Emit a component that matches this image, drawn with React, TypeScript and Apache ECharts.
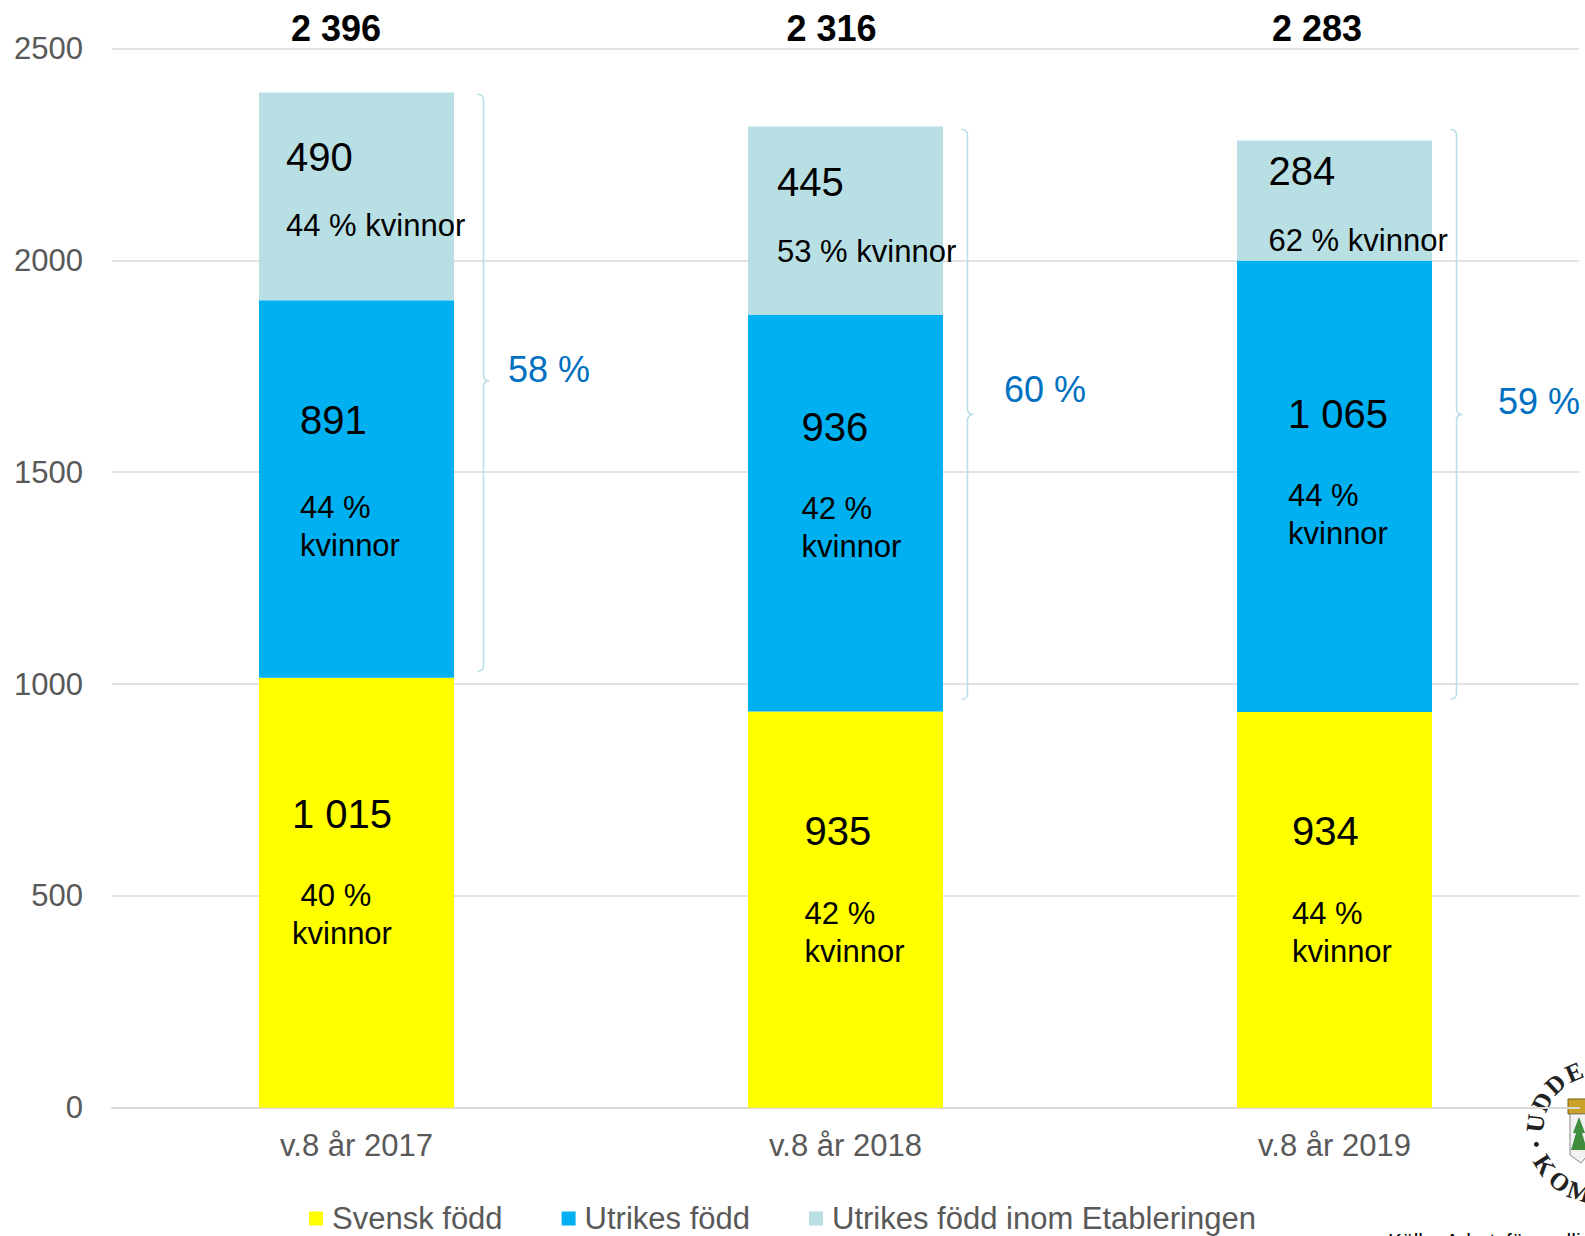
import React, { useEffect, useRef } from 'react';
import * as echarts from 'echarts';

// ---------- data ----------
const categories = ['v.8 år 2017', 'v.8 år 2018', 'v.8 år 2019'];
const legendNames = ['Svensk född', 'Utrikes född', 'Utrikes född inom Etableringen'];
const svenskFodd = [1015, 935, 934];
const utrikesFodd = [891, 936, 1065];
const etablering = [490, 445, 284];
const svenskKvinnor = [40, 42, 44];
const utrikesKvinnor = [44, 42, 44];
const etableringKvinnor = [44, 53, 62];
const totals = [2396, 2316, 2283];
const utrikesAndel = [58, 60, 59];
// brace extents (value units)
const braceTop = [2392, 2309, 2309];
const braceBottom = [1030, 964, 964];
const braceMid = [1716, 1636, 1636];
const yMin = 0;
const yMax = 2500;
const yInterval = 500;

// ---------- layout / style ----------
const FONT = 'Arial, "Liberation Sans", Helvetica, sans-serif';
const W = 1585;
const H = 1236;
const labelLayout = {
  svensk: [
    { dx: 33, top: 73, ln: 126, lead: ' ' },
    { dx: 56.6, top: 56.4, ln: 126, lead: '' },
    { dx: 55, top: 56, ln: 126, lead: '' },
  ],
  utrikes: [
    { dx: 41, top: 51.8, ln: 137, lead: '' },
    { dx: 53.5, top: 49, ln: 125, lead: '' },
    { dx: 51, top: 90, ln: 126, lead: '' },
  ],
  etab: [
    { dx: 27, top: 14.4, ln: 100, lead: '' },
    { dx: 29, top: 4.5, ln: 102, lead: '' },
    { dx: 31.5, top: -20, ln: 101, lead: '' },
  ],
};
const braceDx = [127, 122, 122];
const shareOffset = [
  [24.5, -11.5],
  [36.5, -25],
  [41.5, -13],
];
const totalShift = [41, 28, 35];

const fmt = (v: number) =>
  v >= 1000 ? `${Math.floor(v / 1000)} ${String(v % 1000).padStart(3, '0')}` : String(v);

const makeData = (vals: number[], pcts: number[], layout: any[], twoLines: boolean) =>
  vals.map((v, i) => ({
    value: v,
    label: {
      show: true,
      position: [layout[i].dx, layout[i].top],
      align: 'left',
      verticalAlign: 'top',
      formatter: twoLines
        ? `{n|${fmt(v)}}\n{p|${layout[i].lead}${pcts[i]} %}\n{p|kvinnor}`
        : `{n|${fmt(v)}}\n{p|${pcts[i]} % kvinnor}`,
      rich: {
        n: { fontSize: 40, lineHeight: layout[i].ln, color: '#000', fontFamily: FONT },
        p: { fontSize: 31, lineHeight: 38, color: '#000', fontFamily: FONT },
      },
    },
  }));

const sealTop: [string, number][] = [
  ['U', 187],
  ['D', 207],
  ['D', 227],
  ['E', 247],
];
const sealBottom: [string, number][] = [
  ['K', 148],
  ['O', 128],
  ['M', 108],
];

function buildSeal() {
  const cx = 1599;
  const cy = 1131;
  const r = 64;
  const els: any[] = [];
  const font = 'bold 25px "Liberation Serif", "DejaVu Serif", serif';
  sealTop.forEach(([ch, deg]) => {
    const t = (deg * Math.PI) / 180;
    els.push({
      type: 'text',
      x: cx + r * Math.cos(t),
      y: cy + r * Math.sin(t),
      rotation: (-(deg + 90) * Math.PI) / 180,
      style: { text: ch, font, fill: '#222', align: 'center', verticalAlign: 'middle' },
    });
  });
  sealBottom.forEach(([ch, deg]) => {
    const t = (deg * Math.PI) / 180;
    els.push({
      type: 'text',
      x: cx + r * Math.cos(t),
      y: cy + r * Math.sin(t),
      rotation: ((90 - deg) * Math.PI) / 180,
      style: { text: ch, font, fill: '#222', align: 'center', verticalAlign: 'middle' },
    });
  });
  const td = (168 * Math.PI) / 180;
  els.push({
    type: 'circle',
    shape: { cx: cx + r * Math.cos(td), cy: cy + r * Math.sin(td), r: 2.5 },
    style: { fill: '#222' },
  });
  // shield
  els.push({
    type: 'rect',
    shape: { x: 1568, y: 1099, width: 22, height: 15 },
    style: { fill: '#C9A227', stroke: '#7A5A10', lineWidth: 1 },
  });
  els.push({
    type: 'polygon',
    shape: {
      points: [
        [1570, 1114],
        [1592, 1114],
        [1592, 1150],
        [1581, 1163],
        [1570, 1155],
      ],
    },
    style: { fill: '#F2F2F2', stroke: '#888', lineWidth: 1 },
  });
  els.push({
    type: 'polygon',
    shape: {
      points: [
        [1579, 1117],
        [1573, 1133],
        [1576, 1133],
        [1571, 1150],
        [1587, 1150],
        [1582, 1133],
        [1585, 1133],
      ],
    },
    style: { fill: '#3E8E3E' },
  });
  els.push({
    type: 'text',
    x: 1388,
    y: 1240,
    style: {
      text: 'Källa: Arbetsförmedlingen',
      font: `21px ${FONT}`,
      fill: '#000',
      align: 'left',
      verticalAlign: 'middle',
    },
  });
  return els;
}

export default function App() {
  const ref = useRef<HTMLDivElement>(null);
  useEffect(() => {
    document.body.style.margin = '0';
    document.body.style.overflow = 'hidden';
    if (!ref.current) return;
    const chart = echarts.init(ref.current, null, { renderer: 'svg' });
    const richTotals: any = {};
    totalShift.forEach((s, i) => {
      richTotals['t' + i] = {
        fontSize: 36,
        fontWeight: 'bold',
        color: '#000',
        fontFamily: FONT,
        padding: [0, s, 0, 0],
      };
    });
    const option: any = {
      animation: false,
      backgroundColor: '#fff',
      textStyle: { fontFamily: FONT },
      grid: { left: 112, right: 6, top: 48.5, bottom: H - 1107.8 },
      legend: {
        data: legendNames,
        left: 304,
        top: 1198,
        itemWidth: 14,
        itemHeight: 14,
        itemGap: 59,
        icon: 'rect',
        selectedMode: false,
        textStyle: { fontSize: 31, color: '#595959', fontFamily: FONT, padding: [0, 0, 0, 4] },
      },
      xAxis: [
        {
          type: 'category',
          data: categories,
          axisLine: { show: true, lineStyle: { color: '#D9D9D9', width: 2 } },
          axisTick: { show: false },
          axisLabel: { fontSize: 31, color: '#595959', margin: 22, fontFamily: FONT },
        },
        {
          type: 'category',
          position: 'top',
          data: totals.map(fmt),
          axisLine: { show: false },
          axisTick: { show: false },
          splitLine: { show: false },
          axisLabel: {
            margin: 2,
            formatter: (v: string, i: number) => `{t${i}|${v}}`,
            rich: richTotals,
          },
        },
      ],
      yAxis: {
        type: 'value',
        min: yMin,
        max: yMax,
        interval: yInterval,
        axisLine: { show: false },
        axisTick: { show: false },
        splitLine: { lineStyle: { color: '#D9D9D9', width: 1.5 } },
        axisLabel: {
          fontSize: 31,
          color: '#595959',
          margin: 29,
          fontFamily: FONT,
          formatter: (v: number) => String(v),
        },
      },
      series: [
        {
          name: legendNames[0],
          type: 'bar',
          stack: 'total',
          barWidth: 195,
          itemStyle: { color: '#FFFF00' },
          data: makeData(svenskFodd, svenskKvinnor, labelLayout.svensk, true),
        },
        {
          name: legendNames[1],
          type: 'bar',
          stack: 'total',
          barWidth: 195,
          itemStyle: { color: '#00B0F0' },
          data: makeData(utrikesFodd, utrikesKvinnor, labelLayout.utrikes, true),
        },
        {
          name: legendNames[2],
          type: 'bar',
          stack: 'total',
          barWidth: 195,
          itemStyle: { color: '#B8DFE4' },
          data: makeData(etablering, etableringKvinnor, labelLayout.etab, false),
        },
        {
          type: 'custom',
          silent: true,
          z: 5,
          data: categories.map((_, i) => [i, braceTop[i], braceBottom[i], braceMid[i], utrikesAndel[i]]),
          renderItem: (params: any, api: any) => {
            const i = params.dataIndex;
            const t = api.coord([i, api.value(1)]);
            const b = api.coord([i, api.value(2)]);
            const m = api.coord([i, api.value(3)]);
            const x = t[0] + braceDx[i];
            const h = 6;
            const d = `M${x - h} ${t[1]} Q${x} ${t[1]} ${x} ${t[1] + h} L${x} ${m[1] - h} Q${x} ${m[1]} ${x + h} ${m[1]} Q${x} ${m[1]} ${x} ${m[1] + h} L${x} ${b[1] - h} Q${x} ${b[1]} ${x - h} ${b[1]}`;
            const off = shareOffset[i];
            return {
              type: 'group',
              children: [
                {
                  type: 'path',
                  shape: { pathData: d },
                  style: { fill: 'none', stroke: '#B7DEE8', lineWidth: 1.5 },
                },
                {
                  type: 'text',
                  x: x + off[0],
                  y: m[1] + off[1],
                  style: {
                    text: `${api.value(4)} %`,
                    fill: '#0070C0',
                    fontSize: 36,
                    fontFamily: FONT,
                    align: 'left',
                    verticalAlign: 'middle',
                  },
                },
              ],
            };
          },
        },
      ],
      graphic: buildSeal(),
    };
    chart.setOption(option);
    return () => chart.dispose();
  }, []);
  return <div ref={ref} style={{ width: W, height: H }} />;
}
